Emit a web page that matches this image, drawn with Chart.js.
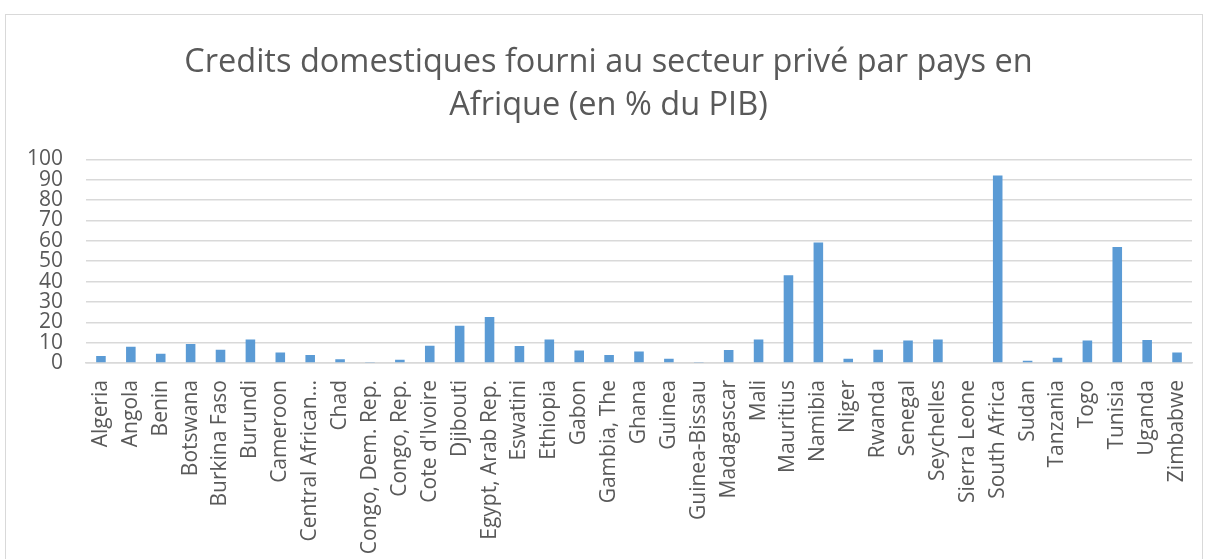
<!DOCTYPE html>
<html>
<head>
<meta charset="utf-8">
<script src="https://cdn.jsdelivr.net/npm/chart.js@4"></script>
<style>
  body { margin: 0; background: #fff; }
  #frame { position: absolute; left: 5px; top: 14px; width: 1196px; height: 560px;
           border: 1px solid #d9d9d9; border-bottom: none; }
  #wrap { position: absolute; left: 0; top: 0; width: 1206px; height: 559px; }
</style>
</head>
<body>
<div id="frame"></div>
<div id="wrap"><canvas id="chartCanvas" width="1206" height="559"></canvas></div>
<script>
// Data
var countries = ['Algeria', 'Angola', 'Benin', 'Botswana', 'Burkina Faso', 'Burundi', 'Cameroon',
  'Central African…', 'Chad', 'Congo, Dem. Rep.', 'Congo, Rep.', "Cote d'Ivoire", 'Djibouti',
  'Egypt, Arab Rep.', 'Eswatini', 'Ethiopia', 'Gabon', 'Gambia, The', 'Ghana', 'Guinea',
  'Guinea-Bissau', 'Madagascar', 'Mali', 'Mauritius', 'Namibia', 'Niger', 'Rwanda', 'Senegal',
  'Seychelles', 'Sierra Leone', 'South Africa', 'Sudan', 'Tanzania', 'Togo', 'Tunisia',
  'Uganda', 'Zimbabwe'];
var credits = [3.4, 8.0, 4.6, 9.3, 6.5, 11.5, 5.1,
  3.9, 1.8, 0.2, 1.6, 8.5, 18.3,
  22.6, 8.3, 11.5, 6.1, 3.9, 5.6, 2.1,
  0.3, 6.4, 11.5, 43.1, 59.2, 2.1, 6.5, 11.0,
  11.5, 0, 92.1, 1.1, 2.6, 11.0, 57.0,
  11.3, 5.1];
var yTicks = [0, 10, 20, 30, 40, 50, 60, 70, 80, 90, 100];

var grey = '#595959';
var ctx = document.getElementById('chartCanvas').getContext('2d');

var chart = new Chart(ctx, {
  type: 'bar',
  data: {
    labels: countries,
    datasets: [{
      label: 'Credits',
      data: credits,
      backgroundColor: '#5b9bd5',
      barPercentage: 0.32,
      categoryPercentage: 1
    }]
  },
  options: {
    responsive: false,
    animation: false,
    // a bit of left padding nudges the title right, like the original
    layout: { padding: { left: 25, right: 14, top: 0, bottom: 0 } },
    plugins: {
      legend: { display: false },
      tooltip: { enabled: false },
      title: {
        display: true,
        text: ['Credits domestiques fourni au secteur privé par pays en', 'Afrique (en % du PIB)'],
        color: grey,
        font: { family: 'Open Sans', size: 32.5, weight: 'normal', lineHeight: 1.33 },
        padding: { top: 41, bottom: 32 }
      }
    },
    scales: {
      x: {
        grid: { display: false, drawTicks: false },
        border: { color: '#d9d9d9', width: 1.5 },
        ticks: {
          autoSkip: false,
          minRotation: 90,
          maxRotation: 90,
          padding: 17,
          color: grey,
          font: { family: 'Open Sans', size: 21 }
        },
        afterFit: function (scale) {
          scale.height = 196;
          // no extra side padding for the rotated end labels
          scale.paddingLeft = 0;
          scale.paddingRight = 0;
        }
      },
      y: {
        min: 0,
        max: 100,
        afterBuildTicks: function (scale) {
          scale.ticks = yTicks.map(v => ({ value: v }));
        },
        grid: { color: '#d9d9d9', lineWidth: 1.5, drawTicks: false },
        border: { display: false },
        ticks: {
          autoSkip: false,
          padding: 23,
          color: grey,
          font: { family: 'Open Sans', size: 21 }
        },
        afterFit: function (scale) { scale.width = 61; }
      }
    }
  }
});
</script>
</body>
</html>
